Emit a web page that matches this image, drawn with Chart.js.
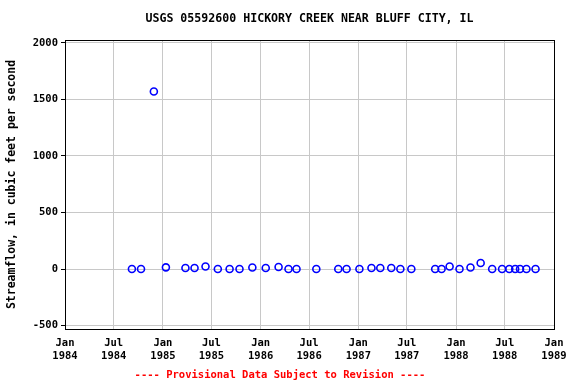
<!DOCTYPE html>
<html>
<head>
<meta charset="utf-8">
<script src="https://cdn.jsdelivr.net/npm/chart.js@4"></script>
<style>
  html, body { margin: 0; padding: 0; background: #fff; }
  canvas { display: block; }
</style>
</head>
<body>
<canvas id="chart" width="576" height="384"></canvas>
<script>
// sample dates and measured streamflow (cfs)
var sampleDates = ['1984-09-07', '1984-10-11', '1984-11-28', '1985-01-12', '1985-03-26', '1985-04-29',
    '1985-06-09', '1985-07-25', '1985-09-07', '1985-10-14', '1985-12-01', '1986-01-20', '1986-03-09',
    '1986-04-15', '1986-05-15', '1986-07-28', '1986-10-18', '1986-11-18', '1987-01-05', '1987-02-19',
    '1987-03-24', '1987-05-04', '1987-06-07', '1987-07-18', '1987-10-15', '1987-11-08', '1987-12-08',
    '1988-01-14', '1988-02-24', '1988-04-02', '1988-05-15', '1988-06-21', '1988-07-18', '1988-08-09',
    '1988-08-27', '1988-09-20', '1988-10-24'];
var flows = [0, 0, 1570, 15, 9, 9,
    23, 0, 0, 0, 14, 9, 18,
    0, 0, 0, 0, 0, 0, 9,
    9, 9, 0, 0, 0, 0, 23,
    0, 14, 53, 0, 0, 0, 0,
    0, 0, 0];

var xTickDates = ['1984-01-01', '1984-07-01', '1985-01-01', '1985-07-01', '1986-01-01', '1986-07-01',
    '1987-01-01', '1987-07-01', '1988-01-01', '1988-07-01', '1989-01-01'];
var xTickLabels = [['Jan', '1984'], ['Jul', '1984'], ['Jan', '1985'], ['Jul', '1985'], ['Jan', '1986'],
    ['Jul', '1986'], ['Jan', '1987'], ['Jul', '1987'], ['Jan', '1988'], ['Jul', '1988'], ['Jan', '1989']];
var yTicks = [-500, 0, 500, 1000, 1500, 2000];

var titleText = 'USGS 05592600 HICKORY CREEK NEAR BLUFF CITY, IL';
var yTitle = 'Streamflow, in cubic feet per second';
var footerText = '---- Provisional Data Subject to Revision ----';

var monoFont = '"DejaVu Sans Mono", "Liberation Mono", monospace';

function toMs(s) {
    var p = s.split('-');
    return Date.UTC(+p[0], +p[1] - 1, +p[2]);
}

var points = [];
for (var i = 0; i < sampleDates.length; i++) {
    points.push({x: toMs(sampleDates[i]), y: flows[i]});
}
var xTickValues = xTickDates.map(toMs);

// title, footer and the black frame round the plot
var textPlugin = {
    id: 'usgsText',
    beforeDatasetsDraw: function(chart) {
        var ctx = chart.ctx;
        var area = chart.chartArea;
        ctx.save();
        ctx.strokeStyle = '#000';
        ctx.lineWidth = 1;
        ctx.strokeRect(Math.round(area.left) + 0.5, Math.round(area.top) + 0.5,
            Math.round(area.right - area.left), Math.round(area.bottom - area.top));
        ctx.restore();
    },
    afterDraw: function(chart) {
        var ctx = chart.ctx;
        var area = chart.chartArea;
        ctx.save();
        ctx.textAlign = 'center';
        ctx.textBaseline = 'middle';
        ctx.fillStyle = '#000';
        ctx.font = 'bold 11.6px ' + monoFont;
        ctx.fillText(titleText, (area.left + area.right) / 2, 19);
        ctx.fillStyle = '#ff0000';
        ctx.font = 'bold 10.5px ' + monoFont;
        ctx.fillText(footerText, 280, 375);
        ctx.restore();
    }
};

new Chart(document.getElementById('chart'), {
    type: 'scatter',
    data: {
        datasets: [{
            data: points,
            showLine: false,
            pointStyle: 'circle',
            pointRadius: 3.5,
            pointBorderWidth: 1.6,
            pointBorderColor: '#0000ff',
            pointBackgroundColor: 'rgba(0,0,0,0)'
        }]
    },
    options: {
        responsive: false,
        animation: false,
        devicePixelRatio: 1,
        layout: {padding: {top: 40, right: 22, bottom: 0, left: 0}},
        plugins: {
            legend: {display: false},
            tooltip: {enabled: false},
            title: {display: false}
        },
        scales: {
            x: {
                type: 'linear',
                min: xTickValues[0],
                max: xTickValues[xTickValues.length - 1],
                afterBuildTicks: function(scale) {
                    scale.ticks = xTickValues.map(function(v) { return {value: v}; });
                },
                afterFit: function(scale) { scale.height = 55; },
                grid: {color: '#c8c8c8', drawTicks: false},
                border: {color: '#000', width: 1},
                ticks: {
                    padding: 8,
                    maxRotation: 0,
                    autoSkip: false,
                    color: '#000',
                    font: {family: monoFont, size: 10.5, weight: 'bold', lineHeight: 1.25},
                    callback: function(value) {
                        var idx = xTickValues.indexOf(value);
                        return idx >= 0 ? xTickLabels[idx] : '';
                    }
                }
            },
            y: {
                min: -530,
                max: 2025,
                afterBuildTicks: function(scale) {
                    scale.ticks = yTicks.map(function(v) { return {value: v}; });
                },
                afterFit: function(scale) { scale.width = 65; },
                grid: {color: '#c8c8c8', tickLength: 4, tickColor: '#000'},
                border: {color: '#000', width: 1},
                ticks: {
                    padding: 3,
                    color: '#000',
                    font: {family: monoFont, size: 10.5, weight: 'bold'},
                    callback: function(value) { return String(value); }
                },
                title: {
                    display: true,
                    text: yTitle,
                    color: '#000',
                    padding: {top: 5, bottom: 0},
                    font: {family: monoFont, size: 11.5, weight: 'bold'}
                }
            }
        }
    },
    plugins: [textPlugin]
});
</script>
</body>
</html>
